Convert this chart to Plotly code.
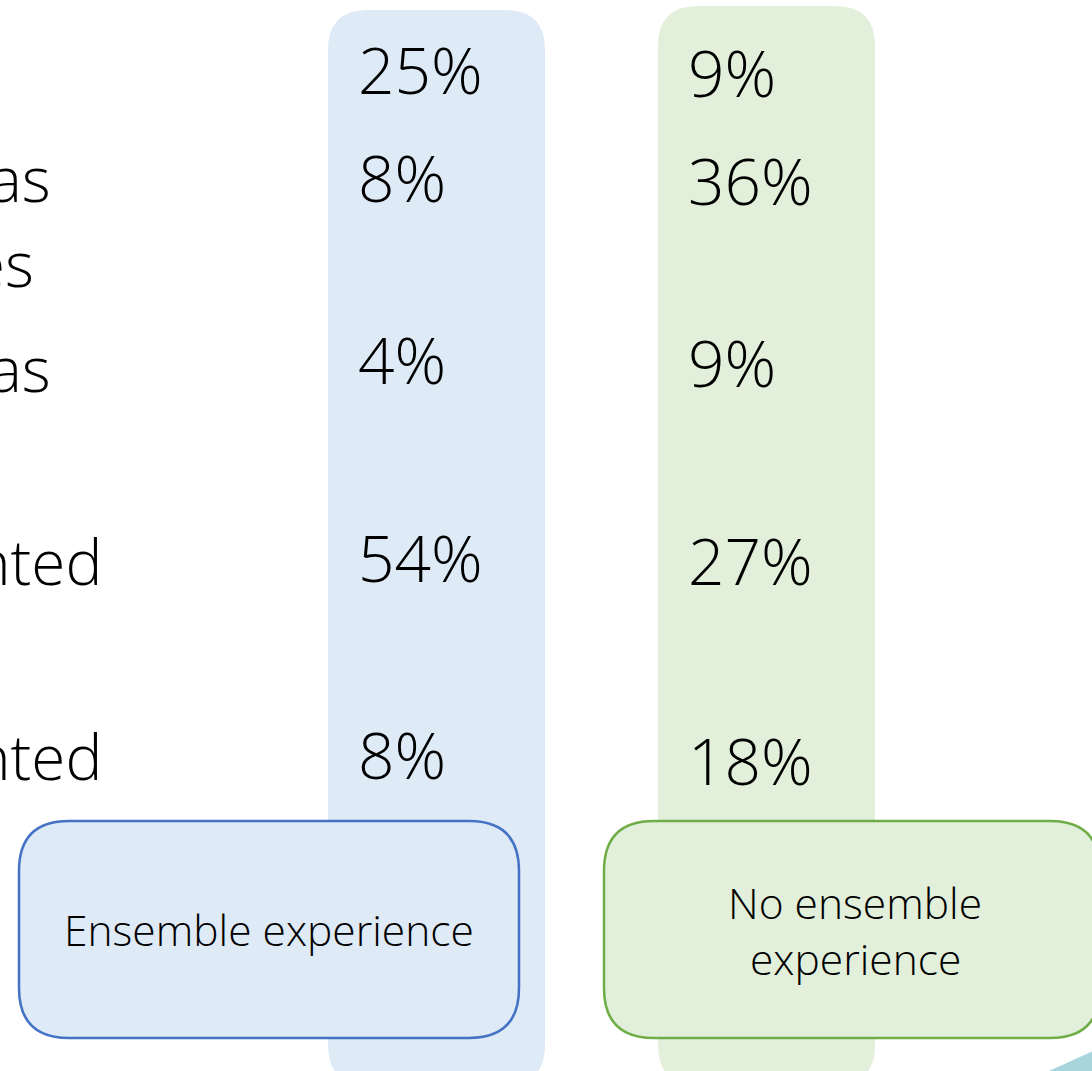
import plotly.graph_objects as go

# Survey shares per response row, for the two groups
row_labels = ["as", "es", "as", "nted", "nted"]
label_right = [53, 36, 53, 104, 104]
label_y = [178, 263, 368, 561, 756]
ensemble_pct = [25, 8, 4, 54, 8]
no_ensemble_pct = [9, 36, 9, 27, 18]
value_y_blue = [69, 177, 359, 557, 754]
value_y_green = [72, 180, 362, 560, 760]
group_names = ["Ensemble experience", "No ensemble", "experience"]

W, H = 1092, 1071
BLUE_FILL = "#DEEAF6"
GREEN_FILL = "#E2EFDA"
BLUE_LINE = "#4472C4"
GREEN_LINE = "#70AD47"
FONT = "Open Sans"
WEIGHT = 300


def rounded_rect(x0, y0, x1, y1, r):
    return (
        f"M{x0 + r},{y0} L{x1 - r},{y0} Q{x1},{y0} {x1},{y0 + r} "
        f"L{x1},{y1 - r} Q{x1},{y1} {x1 - r},{y1} "
        f"L{x0 + r},{y1} Q{x0},{y1} {x0},{y1 - r} "
        f"L{x0},{y0 + r} Q{x0},{y0} {x0 + r},{y0} Z"
    )


def txt(x, y, text, size, anchor="left"):
    return dict(x=x, y=y, text=text, showarrow=False,
                xanchor=anchor, yanchor="middle",
                font=dict(family=FONT, size=size, color="#000", weight=WEIGHT))


fig = go.Figure()

shapes = [
    # column backgrounds
    dict(type="path", path=rounded_rect(328, 10, 545, 1085, 40),
         fillcolor=BLUE_FILL, line=dict(width=0), layer="below"),
    dict(type="path", path=rounded_rect(658, 6, 875, 1085, 40),
         fillcolor=GREEN_FILL, line=dict(width=0), layer="below"),
    # group boxes
    dict(type="path", path=rounded_rect(19, 821, 519, 1038, 50),
         fillcolor=BLUE_FILL, line=dict(color=BLUE_LINE, width=2.5)),
    dict(type="path", path=rounded_rect(604, 821, 1100, 1038, 50),
         fillcolor=GREEN_FILL, line=dict(color=GREEN_LINE, width=2.5)),
    # teal corner accent
    dict(type="path", path="M1040,1075 L1100,1048 L1100,1075 Z",
         fillcolor="#A8D4DC", line=dict(width=0)),
]

annotations = []
for lab, xr, y in zip(row_labels, label_right, label_y):
    annotations.append(txt(xr, y, lab, 62, "right"))
for v, y in zip(ensemble_pct, value_y_blue):
    annotations.append(txt(356, y, f"{v}%", 64))
for v, y in zip(no_ensemble_pct, value_y_green):
    annotations.append(txt(686, y, f"{v}%", 64))
annotations.append(txt(269, 929, group_names[0], 42.5, "center"))
annotations.append(txt(855, 902, group_names[1], 42.5, "center"))
annotations.append(txt(855, 958, group_names[2], 42.5, "center"))

fig.update_layout(
    width=W, height=H,
    margin=dict(l=0, r=0, t=0, b=0),
    paper_bgcolor="white", plot_bgcolor="white",
    xaxis=dict(range=[0, W], visible=False, fixedrange=True),
    yaxis=dict(range=[H, 0], visible=False, fixedrange=True),
    shapes=shapes, annotations=annotations, showlegend=False,
)

fig.write_html("out.html")
